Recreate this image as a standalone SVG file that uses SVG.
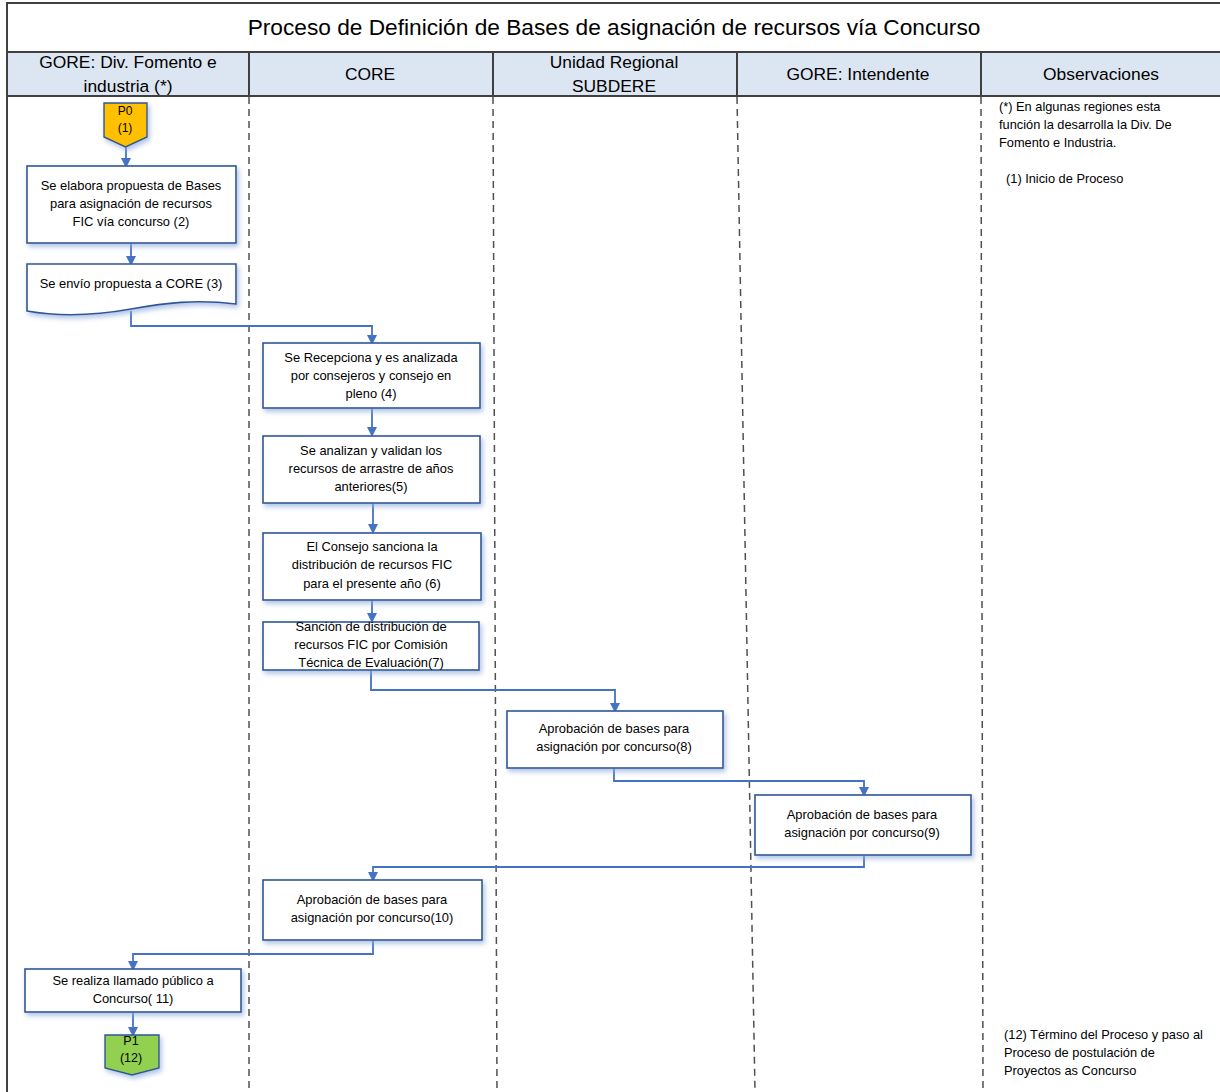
<svg xmlns="http://www.w3.org/2000/svg" width="1220" height="1092" viewBox="0 0 1220 1092">
<defs>
<style>
.frame{fill:none;stroke:#404040;stroke-width:2}
.hdr{fill:#dce6f2;stroke:#404040;stroke-width:2}
.lane{stroke:#505050;stroke-width:1.5;stroke-dasharray:7,5;fill:none}
.box{fill:#ffffff;stroke:#2f5597;stroke-width:1.6;filter:url(#sh)}
.t{font-family:"Liberation Sans",Arial,sans-serif;font-size:12.9px;fill:#000;text-anchor:middle}
.obs{font-family:"Liberation Sans",Arial,sans-serif;font-size:12.8px;fill:#000}
.h{font-family:"Liberation Sans",Arial,sans-serif;font-size:17.4px;fill:#000;text-anchor:middle}
.title{font-family:"Liberation Sans",Arial,sans-serif;font-size:22.7px;fill:#000;text-anchor:middle}
.c{fill:none;stroke:#4472c4;stroke-width:1.8;marker-end:url(#ah)}
</style>
<filter id="sh" x="-10%" y="-20%" width="125%" height="150%">
<feDropShadow dx="2" dy="3" stdDeviation="2.5" flood-color="#8eaadb" flood-opacity="0.7"/>
</filter>
<marker id="ah" markerWidth="10" markerHeight="10" refX="8" refY="5" orient="auto" markerUnits="userSpaceOnUse">
<path d="M0,0 L10,5 L0,10 Z" fill="#4472c4"/>
</marker>
</defs>

<g id="frame">
<rect x="7" y="3" width="1220" height="1100" fill="#ffffff" class="frame"/>
<text class="title" x="614" y="35">Proceso de Definición de Bases de asignación de recursos vía Concurso</text>
<rect class="hdr" x="7" y="52" width="1220" height="44"/>
<line x1="249" y1="52" x2="249" y2="96" stroke="#404040" stroke-width="2"/>
<line x1="493" y1="52" x2="493" y2="96" stroke="#404040" stroke-width="2"/>
<line x1="737" y1="52" x2="737" y2="96" stroke="#404040" stroke-width="2"/>
<line x1="981" y1="52" x2="981" y2="96" stroke="#404040" stroke-width="2"/>
<text class="h" x="128" y="68">GORE: Div. Fomento e</text>
<text class="h" x="128" y="92">industria (*)</text>
<text class="h" x="370" y="80">CORE</text>
<text class="h" x="614" y="68">Unidad Regional</text>
<text class="h" x="614" y="92">SUBDERE</text>
<text class="h" x="858" y="80">GORE: Intendente</text>
<text class="h" x="1101" y="80">Observaciones</text>
<line class="lane" x1="249" y1="97" x2="249" y2="1092"/>
<line class="lane" x1="493" y1="97" x2="497" y2="1092"/>
<line class="lane" x1="737" y1="97" x2="755" y2="1092"/>
<line class="lane" x1="981" y1="97" x2="983" y2="1092"/>
</g>

<g id="connectors">
<path class="c" d="M126,147 V166"/>
<path class="c" d="M131,243 V264"/>
<path class="c" d="M131,311 V326 H372 V343"/>
<path class="c" d="M372,408 V435"/>
<path class="c" d="M373,503 V532"/>
<path class="c" d="M372,600 V621"/>
<path class="c" d="M371,670 V690 H615 V711"/>
<path class="c" d="M614,768 V781 H864 V795"/>
<path class="c" d="M864,855 V867 H373 V880"/>
<path class="c" d="M373,940 V954 H133 V969"/>
<path class="c" d="M133,1012 V1035"/>
</g>

<g id="P0">
<path d="M104,103 H147 V137 L125.5,147 L104,137 Z" fill="#ffc000" stroke="#2f5597" stroke-width="1.4" filter="url(#sh)"/>
<text class="t" x="125" y="115" style="font-size:12px">P0</text>
<text class="t" x="125" y="132" style="font-size:12px">(1)</text>
</g>

<g id="n2">
<rect class="box" x="27" y="166" width="209" height="77"/>
<text class="t" x="131" y="190">Se elabora propuesta de Bases</text>
<text class="t" x="131" y="208">para asignación de recursos</text>
<text class="t" x="131" y="226">FIC vía concurso (2)</text>
</g>

<g id="n3">
<path class="box" d="M27,264 H236 V304 C195,299 165,303 131,309 C92,316 55,316 27,311 Z"/>
<text class="t" x="131" y="288">Se envío propuesta a CORE (3)</text>
</g>

<g id="n4">
<rect class="box" x="263" y="343" width="217" height="65"/>
<text class="t" x="371" y="362">Se Recepciona y es analizada</text>
<text class="t" x="371" y="380">por consejeros y consejo en</text>
<text class="t" x="371" y="398">pleno (4)</text>
</g>

<g id="n5">
<rect class="box" x="263" y="436" width="217" height="67"/>
<text class="t" x="371" y="455">Se analizan y validan los</text>
<text class="t" x="371" y="473">recursos de arrastre de años</text>
<text class="t" x="371" y="491">anteriores(5)</text>
</g>

<g id="n6">
<rect class="box" x="263" y="533" width="218" height="67"/>
<text class="t" x="372" y="551">El Consejo sanciona la</text>
<text class="t" x="372" y="569">distribución de recursos FIC</text>
<text class="t" x="372" y="588">para el presente año (6)</text>
</g>

<g id="n7">
<rect class="box" x="263" y="622" width="216" height="48"/>
<text class="t" x="371" y="631">Sanción de distribución de</text>
<text class="t" x="371" y="649">recursos FIC por Comisión</text>
<text class="t" x="371" y="667">Técnica de Evaluación(7)</text>
</g>

<g id="n8">
<rect class="box" x="507" y="711" width="216" height="57"/>
<text class="t" x="614" y="733">Aprobación de bases para</text>
<text class="t" x="614" y="751">asignación por concurso(8)</text>
</g>

<g id="n9">
<rect class="box" x="755" y="795" width="216" height="60"/>
<text class="t" x="862" y="819">Aprobación de bases para</text>
<text class="t" x="862" y="837">asignación por concurso(9)</text>
</g>

<g id="n10">
<rect class="box" x="263" y="880" width="219" height="60"/>
<text class="t" x="372" y="904">Aprobación de bases para</text>
<text class="t" x="372" y="922">asignación por concurso(10)</text>
</g>

<g id="n11">
<rect class="box" x="25" y="969" width="216" height="43"/>
<text class="t" x="133" y="985">Se realiza llamado público a</text>
<text class="t" x="133" y="1003">Concurso( 11)</text>
</g>

<g id="P1">
<path d="M105,1035 H159 V1068 L132,1075 L105,1068 Z" fill="#92d050" stroke="#2f5597" stroke-width="1.4" filter="url(#sh)"/>
<text class="t" x="131" y="1045" style="font-size:12.5px">P1</text>
<text class="t" x="131" y="1062" style="font-size:12.5px">(12)</text>
</g>

<g id="observaciones">
<text class="obs" x="999" y="111">(*) En algunas regiones esta</text>
<text class="obs" x="999" y="129">función la desarrolla la Div. De</text>
<text class="obs" x="999" y="147">Fomento e Industria.</text>
<text class="obs" x="1006" y="183">(1) Inicio de Proceso</text>
<text class="obs" x="1004" y="1039">(12) Término del Proceso y paso al</text>
<text class="obs" x="1004" y="1057">Proceso de postulación de</text>
<text class="obs" x="1004" y="1075">Proyectos as Concurso</text>
</g>
</svg>
